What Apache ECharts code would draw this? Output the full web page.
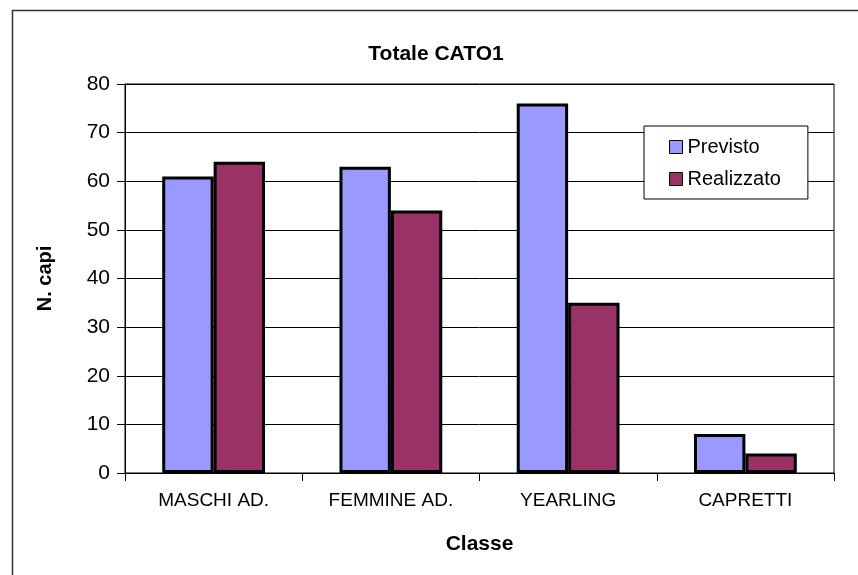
<!DOCTYPE html>
<html><head><meta charset="utf-8">
<script src="https://cdn.jsdelivr.net/npm/echarts@6/dist/echarts.min.js"></script>
<style>html,body{margin:0;padding:0;background:#fff}#c{width:858px;height:575px}</style>
</head><body><div id="c"></div>
<script>
const categories = ['MASCHI AD.', 'FEMMINE AD.', 'YEARLING', 'CAPRETTI'];
const previsto = [61, 63, 76, 8];
const realizzato = [64, 54, 35, 4];
const yTicks = [0, 10, 20, 30, 40, 50, 60, 70, 80];

const chart = echarts.init(document.getElementById('c'), null, {renderer: 'canvas'});
const font = 'Liberation Sans, Arial, sans-serif';
chart.setOption({
  animation: false,
  backgroundColor: '#fff',
  textStyle: {fontFamily: font},
  title: {
    text: 'Totale CATO1', left: 431, top: 39, textAlign: 'center',
    textStyle: {fontSize: 21, fontWeight: 'bold', color: '#000', fontFamily: font}
  },
  graphic: [{
    type: 'rect', shape: {x: 12.5, y: 10.5, width: 870, height: 600},
    style: {fill: 'none', stroke: '#333', lineWidth: 1.5}, silent: true
  }],
  legend: {
    orient: 'vertical', left: 644, top: 126,
    padding: [11, 27, 10, 25],
    backgroundColor: '#fff', borderColor: '#000', borderWidth: 1,
    itemWidth: 13, itemHeight: 13, itemGap: 12,
    textStyle: {fontSize: 20, color: '#000', fontFamily: font},
    itemStyle: {borderColor: '#000', borderWidth: 1},
    data: [{name: 'Previsto', icon: 'rect'}, {name: 'Realizzato', icon: 'rect'}]
  },
  grid: {
    left: 125, top: 84, right: 24, bottom: 102,
    show: true, borderColor: '#000', borderWidth: 1, backgroundColor: 'transparent'
  },
  xAxis: {
    type: 'category', data: categories,
    name: 'Classe', nameLocation: 'middle', nameGap: 61,
    nameTextStyle: {fontSize: 21, fontWeight: 'bold', color: '#000', fontFamily: font},
    axisLine: {lineStyle: {color: '#000', width: 1}},
    axisTick: {show: true, alignWithLabel: false, length: 8, lineStyle: {color: '#000'}},
    axisLabel: {fontSize: 19, color: '#000', margin: 18, fontFamily: font}
  },
  yAxis: {
    type: 'value', min: 0, max: 80, interval: 10,
    name: 'N. capi', nameLocation: 'middle', nameGap: 70, nameRotate: 90,
    nameTextStyle: {fontSize: 20, fontWeight: 'bold', color: '#000', fontFamily: font},
    axisLine: {show: true, lineStyle: {color: '#000', width: 1}},
    axisTick: {show: true, length: 8, lineStyle: {color: '#000'}},
    axisLabel: {fontSize: 21, color: '#000', margin: 15, fontFamily: font,
      formatter: v => yTicks.includes(v) ? String(v) : ''},
    splitLine: {show: true, lineStyle: {color: '#000', width: 1}}
  },
  series: [
    {name: 'Previsto', type: 'bar', data: previsto, barGap: '0%', barCategoryGap: '42%',
     itemStyle: {color: '#9999FF', borderColor: '#000', borderWidth: 3}},
    {name: 'Realizzato', type: 'bar', data: realizzato, barGap: '0%', barCategoryGap: '42%',
     itemStyle: {color: '#993366', borderColor: '#000', borderWidth: 3}}
  ]
});
</script></body></html>
